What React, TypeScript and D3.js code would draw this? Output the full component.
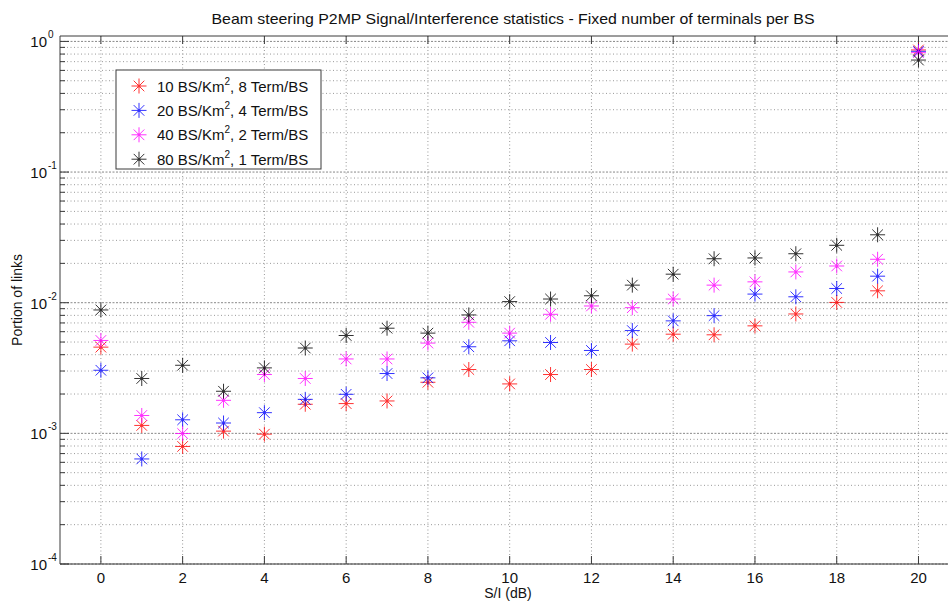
import React from "react";
import * as d3 from "d3";

const W = 948;
const H = 601;

const xValues = [0, 1, 2, 3, 4, 5, 6, 7, 8, 9, 10, 11, 12, 13, 14, 15, 16, 17, 18, 19, 20];
const xTicks = [0, 2, 4, 6, 8, 10, 12, 14, 16, 18, 20];
const yExps = [-4, -3, -2, -1, 0];

const red10 = [0.00457, 0.00115, 0.000794, 0.00104, 0.000986, 0.00167, 0.00169, 0.00177, 0.00246, 0.00308, 0.00239, 0.00282, 0.00308, 0.00482, 0.00574, 0.00568, 0.00665, 0.0082, 0.01005, 0.01233, 0.86];
const blue20 = [0.00304, 0.000637, 0.00127, 0.0012, 0.00144, 0.00182, 0.00199, 0.00287, 0.00266, 0.0046, 0.00511, 0.00496, 0.00431, 0.00612, 0.00726, 0.00796, 0.01164, 0.0111, 0.01285, 0.01596, 0.84];
const magenta40 = [0.00514, 0.00137, 0.000997, 0.00179, 0.00282, 0.00263, 0.00371, 0.00371, 0.00491, 0.00708, 0.00585, 0.00815, 0.00944, 0.00916, 0.01067, 0.01363, 0.01444, 0.0172, 0.0191, 0.0215, 0.82];
const black80 = [0.0088, 0.00263, 0.00332, 0.0021, 0.00317, 0.0045, 0.00561, 0.00638, 0.00585, 0.00806, 0.0102, 0.01067, 0.0113, 0.01363, 0.01653, 0.0217, 0.022, 0.0237, 0.0275, 0.0331, 0.72];

const seriesNames = ["10", "20", "40", "80"];
const seriesTerms = ["8", "4", "2", "1"];
const seriesColors = ["#ff0000", "#0000ff", "#ff00ff", "#000000"];
const seriesData = [red10, blue20, magenta40, black80];

const FONT = "Arial, 'Liberation Sans', Helvetica, sans-serif";

function Star({ cx, cy, color, r = 7.5 }: { cx: number; cy: number; color: string; r?: number }) {
  const d = r * Math.SQRT1_2;
  return (
    <g stroke={color} strokeWidth={1} opacity={0.8}>
      <line x1={cx - r} y1={cy} x2={cx + r} y2={cy} />
      <line x1={cx} y1={cy - r} x2={cx} y2={cy + r} />
      <line x1={cx - d} y1={cy - d} x2={cx + d} y2={cy + d} />
      <line x1={cx - d} y1={cy + d} x2={cx + d} y2={cy - d} />
      <circle cx={cx} cy={cy} r={1.5} fill={color} stroke="none" />
    </g>
  );
}

export default function App() {
  const left = 60;
  const top = 36;
  const bottom = 564;
  const x = d3.scaleLinear().domain([-1, 21]).range([left, left + 22 * 40.88]);
  const y = d3.scaleLog().domain([1e-4, 1.1]).range([bottom, top]);
  const right = W + 20;

  const minor: number[] = [];
  for (let e = -4; e < 0; e++) {
    for (let m = 2; m <= 9; m++) minor.push(m * Math.pow(10, e));
  }
  const majors = yExps.map((e) => Math.pow(10, e));

  const axisColor = "#3a3a3a";

  return (
    <svg width={W} height={H} style={{ position: "absolute", left: 0, top: 0, background: "#fff" }} fontFamily={FONT}>
      <rect x={0} y={0} width={W} height={H} fill="#fff" />
      {/* grid */}
      <g>
        {minor.map((v, i) => (
          <line key={"mg" + i} x1={left} x2={right} y1={y(v)} y2={y(v)} stroke="#999" strokeDasharray="1,2.5" strokeWidth={1} />
        ))}
        {majors.map((v, i) => (
          <line key={"Mg" + i} x1={left} x2={right} y1={y(v)} y2={y(v)} stroke="#888" strokeDasharray="2,1.5" strokeWidth={1} />
        ))}
        {xTicks.map((t) => (
          <line key={"xg" + t} x1={x(t)} x2={x(t)} y1={top} y2={bottom} stroke="#999" strokeDasharray="1,2.5" strokeWidth={1} />
        ))}
      </g>
      {/* axes */}
      <g stroke={axisColor} strokeWidth={1}>
        <line x1={left} x2={right} y1={bottom} y2={bottom} />
        <line x1={left} x2={right} y1={top} y2={top} />
        <line x1={left} x2={left} y1={top} y2={bottom} />
        {xTicks.map((t) => (
          <g key={"xt" + t}>
            <line x1={x(t)} x2={x(t)} y1={bottom} y2={bottom - 8} />
            <line x1={x(t)} x2={x(t)} y1={top} y2={top + 8} />
          </g>
        ))}
        {majors.map((v, i) => (
          <line key={"yt" + i} x1={left} x2={left + 9} y1={y(v)} y2={y(v)} />
        ))}
        {minor.map((v, i) => (
          <line key={"ymt" + i} x1={left} x2={left + 5} y1={y(v)} y2={y(v)} />
        ))}
      </g>
      {/* tick labels */}
      <g fontSize={15} fill="#111">
        {xTicks.map((t) => (
          <text key={"xl" + t} x={x(t)} y={583} textAnchor="middle">
            {t}
          </text>
        ))}
        {yExps.map((e) => (
          <text key={"yl" + e} x={47} y={y(Math.pow(10, e)) + 6} textAnchor="end">
            10
          </text>
        ))}
        {yExps.map((e) => (
          <text key={"ye" + e} x={48} y={y(Math.pow(10, e)) - 3} fontSize={10} textAnchor="start">
            {e === 0 ? "0" : String(e)}
          </text>
        ))}
      </g>
      {/* data */}
      <g>
        {seriesData.map((arr, si) =>
          arr.map((v, i) => <Star key={si + "-" + i} cx={x(xValues[i])} cy={y(v)} color={seriesColors[si]} />)
        )}
      </g>
      {/* legend */}
      <g>
        <rect x={116} y={70} width={205} height={99} fill="#fff" stroke={axisColor} strokeWidth={1} />
        {seriesNames.map((n, i) => {
          const ly = 86 + i * 24.4;
          return (
            <g key={"lg" + i}>
              <Star cx={139} cy={ly} color={seriesColors[i]} />
              <text x={157} y={ly + 5.5} fontSize={15} fill="#111">
                {n + " BS/Km"}
                <tspan fontSize={10} dy={-7}>2</tspan>
                <tspan dy={7}>{", " + seriesTerms[i] + " Term/BS"}</tspan>
              </text>
            </g>
          );
        })}
      </g>
      {/* titles */}
      <text x={513} y={24} fontSize={14.5} textAnchor="middle" fill="#111" textLength={603} lengthAdjust="spacingAndGlyphs">
        Beam steering P2MP Signal/Interference statistics - Fixed number of terminals per BS
      </text>
      <text x={508} y={598} fontSize={14} textAnchor="middle" fill="#111">
        S/I (dB)
      </text>
      <text transform={`translate(22, ${(top + bottom) / 2}) rotate(-90)`} fontSize={14} textAnchor="middle" fill="#111">
        Portion of links
      </text>
    </svg>
  );
}
